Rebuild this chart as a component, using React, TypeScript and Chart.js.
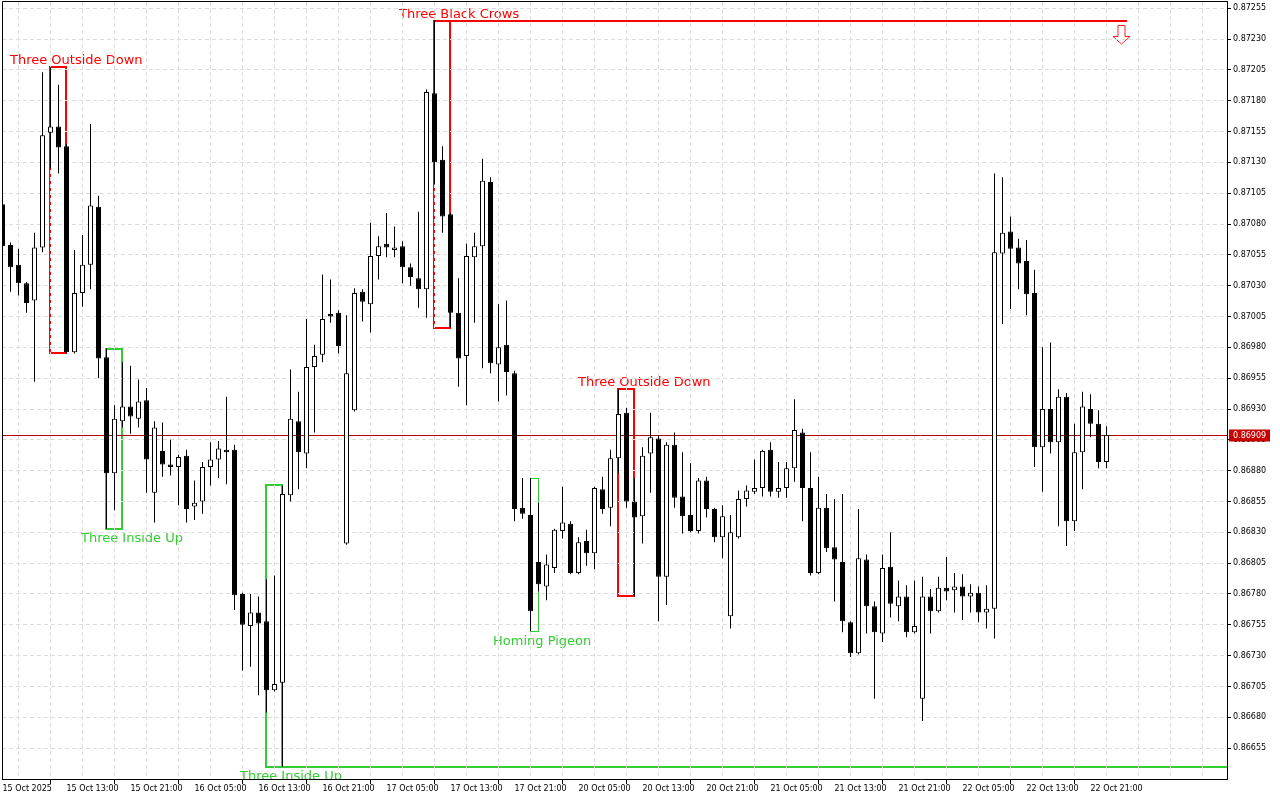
import React, { useEffect, useRef } from 'react';
import { Chart, registerables } from 'chart.js';

Chart.register(...registerables);

// ---- data ----
const tickLabels = [
  '15 Oct 2025', '15 Oct 13:00', '15 Oct 21:00', '16 Oct 05:00', '16 Oct 13:00', '16 Oct 21:00',
  '17 Oct 05:00', '17 Oct 13:00', '17 Oct 21:00', '20 Oct 05:00', '20 Oct 13:00', '20 Oct 21:00',
  '21 Oct 05:00', '21 Oct 13:00', '21 Oct 21:00', '22 Oct 05:00', '22 Oct 13:00', '22 Oct 21:00',
];

const priceTicks = [
  0.86655, 0.8668, 0.86705, 0.8673, 0.86755, 0.8678, 0.86805, 0.8683, 0.86855, 0.8688,
  0.86905, 0.8693, 0.86955, 0.8698, 0.87005, 0.8703, 0.87055, 0.8708, 0.87105, 0.8713,
  0.87155, 0.8718, 0.87205, 0.8723, 0.87255,
];

const open = [
  0.87096, 0.87063, 0.87047, 0.87032, 0.87018, 0.87061, 0.87154, 0.87159, 0.87143, 0.86976,
  0.87024, 0.87047, 0.87094, 0.86972, 0.86878, 0.8692, 0.86932, 0.86922, 0.86937, 0.86862,
  0.86896, 0.86885, 0.86883, 0.86892, 0.86851, 0.86855, 0.86883, 0.86889, 0.86897, 0.86897,
  0.8678, 0.86754, 0.86765, 0.86758, 0.86702, 0.86708, 0.8686, 0.8692, 0.86894, 0.86964,
  0.86974, 0.87007, 0.87008, 0.86821, 0.86929, 0.87025, 0.87015, 0.87054, 0.87064, 0.87059,
  0.87062, 0.87045, 0.87036, 0.87027, 0.87186, 0.87132, 0.87088, 0.87008, 0.86973, 0.87053,
  0.87062, 0.87114, 0.86966, 0.86982, 0.86959, 0.8685, 0.86844, 0.86806, 0.86786, 0.86801,
  0.86831, 0.86837, 0.86797, 0.86823, 0.86813, 0.86865, 0.8685, 0.8689, 0.86927, 0.86855,
  0.86843, 0.86894, 0.86906, 0.86794, 0.86901, 0.86859, 0.86844, 0.86831, 0.86872, 0.86849,
  0.86826, 0.86762, 0.86826, 0.86857, 0.86863, 0.86866, 0.86897, 0.86863, 0.86866, 0.86882,
  0.86911, 0.86866, 0.86797, 0.8685, 0.86818, 0.86806, 0.86757, 0.86732, 0.86808, 0.8677,
  0.86748, 0.86802, 0.8677, 0.86778, 0.86749, 0.86695, 0.86778, 0.86766, 0.86785, 0.86783,
  0.86786, 0.86778, 0.86781, 0.86765, 0.86768, 0.87056, 0.87074, 0.87061, 0.8705, 0.87024,
  0.86899, 0.8693, 0.86903, 0.8694, 0.86839, 0.86895, 0.8693, 0.86918, 0.86887,
];

const high = [
  0.871, 0.87065, 0.8706, 0.87033, 0.87073, 0.87203, 0.87207, 0.87193, 0.87145, 0.87059,
  0.87071, 0.87161, 0.87103, 0.86979, 0.86933, 0.86968, 0.86965, 0.86954, 0.86947, 0.8692,
  0.86919, 0.86905, 0.86893, 0.86897, 0.86872, 0.86887, 0.86903, 0.86904, 0.8694, 0.86901,
  0.86781, 0.8678, 0.86778, 0.86792, 0.86795, 0.86868, 0.86962, 0.86944, 0.87003, 0.86982,
  0.87039, 0.87035, 0.8701, 0.87006, 0.87028, 0.87027, 0.87081, 0.8707, 0.87089, 0.87078,
  0.87066, 0.87048, 0.8709, 0.87189, 0.87245, 0.87143, 0.87089, 0.87036, 0.87064, 0.87073,
  0.87133, 0.87118, 0.87015, 0.87018, 0.86961, 0.86874, 0.86874, 0.86854, 0.86812, 0.86833,
  0.86867, 0.86839, 0.86826, 0.86832, 0.86867, 0.86875, 0.86897, 0.86946, 0.86931, 0.86874,
  0.86899, 0.86927, 0.86909, 0.86903, 0.86911, 0.86895, 0.86886, 0.86874, 0.86875, 0.8685,
  0.86852, 0.86844, 0.86864, 0.86868, 0.86889, 0.86897, 0.86903, 0.86887, 0.86887, 0.86938,
  0.86914, 0.86895, 0.86875, 0.86861, 0.86857, 0.86861, 0.86758, 0.86849, 0.86812, 0.86774,
  0.86812, 0.8683, 0.86791, 0.86787, 0.86791, 0.86794, 0.86784, 0.86794, 0.8681, 0.86797,
  0.86796, 0.86788, 0.86786, 0.86787, 0.87121, 0.87118, 0.87086, 0.87068, 0.87067, 0.87043,
  0.8698, 0.86984, 0.86946, 0.86943, 0.86918, 0.86944, 0.86942, 0.86929, 0.86916,
];

const low = [
  0.87059, 0.87025, 0.87022, 0.87008, 0.86952, 0.87057, 0.87125, 0.87121, 0.86975, 0.86975,
  0.87013, 0.87027, 0.86955, 0.86833, 0.86848, 0.86915, 0.8691, 0.86915, 0.86862, 0.86838,
  0.86875, 0.86876, 0.86852, 0.86838, 0.8684, 0.86845, 0.86868, 0.86874, 0.86869, 0.86767,
  0.86718, 0.86721, 0.86698, 0.86684, 0.86701, 0.8664, 0.86855, 0.86865, 0.86882, 0.86911,
  0.86968, 0.87, 0.86975, 0.8682, 0.86928, 0.87001, 0.86992, 0.87035, 0.87053, 0.87053,
  0.87032, 0.8703, 0.87012, 0.87004, 0.87112, 0.87073, 0.86996, 0.86948, 0.86933, 0.87,
  0.86963, 0.86959, 0.86936, 0.86941, 0.86839, 0.86841, 0.8675, 0.86782, 0.86775, 0.86797,
  0.86825, 0.86796, 0.86796, 0.86803, 0.868, 0.86845, 0.86835, 0.86878, 0.8685, 0.86778,
  0.86821, 0.86862, 0.86758, 0.86771, 0.8685, 0.86829, 0.8683, 0.86829, 0.86842, 0.86822,
  0.86809, 0.86752, 0.86825, 0.86851, 0.86861, 0.86859, 0.86859, 0.86858, 0.86858, 0.86871,
  0.86839, 0.86795, 0.86796, 0.86814, 0.86774, 0.86749, 0.86729, 0.86731, 0.86748, 0.86695,
  0.86741, 0.86761, 0.86758, 0.86745, 0.86748, 0.86677, 0.86748, 0.86765, 0.86775, 0.86765,
  0.86759, 0.86765, 0.86757, 0.86752, 0.86744, 0.86999, 0.87011, 0.87027, 0.87006, 0.86883,
  0.86863, 0.86894, 0.86835, 0.86819, 0.86831, 0.86865, 0.86907, 0.86882, 0.86882,
];

const close = [
  0.87062, 0.87045, 0.87032, 0.87016, 0.87061, 0.87152, 0.87159, 0.87142, 0.86976, 0.87024,
  0.87047, 0.87095, 0.86971, 0.86878, 0.86922, 0.86932, 0.86924, 0.86936, 0.86889, 0.86915,
  0.86885, 0.86883, 0.86891, 0.86849, 0.86854, 0.86883, 0.86889, 0.86898, 0.86895, 0.86779,
  0.86755, 0.86765, 0.86756, 0.86702, 0.86707, 0.86861, 0.86922, 0.86895, 0.86964, 0.86973,
  0.87003, 0.87005, 0.86981, 0.86959, 0.87024, 0.87017, 0.87054, 0.87062, 0.87061, 0.87061,
  0.87045, 0.87037, 0.87027, 0.87187, 0.8713, 0.87086, 0.87008, 0.86971, 0.87054, 0.87062,
  0.87115, 0.86967, 0.8698, 0.8696, 0.86849, 0.86845, 0.86766, 0.86788, 0.86804, 0.86832,
  0.86838, 0.86797, 0.86822, 0.86813, 0.86866, 0.86849, 0.8689, 0.86926, 0.86855, 0.86842,
  0.86892, 0.86907, 0.86794, 0.86901, 0.86858, 0.86843, 0.86831, 0.86872, 0.86849, 0.86826,
  0.86843, 0.8683, 0.86857, 0.86864, 0.86866, 0.86896, 0.86863, 0.86866, 0.86882, 0.86913,
  0.86866, 0.86797, 0.8685, 0.86817, 0.86808, 0.86758, 0.86732, 0.86809, 0.8677, 0.86749,
  0.86801, 0.86772, 0.86778, 0.86749, 0.86754, 0.86778, 0.86766, 0.86785, 0.86782, 0.86786,
  0.86778, 0.86781, 0.86765, 0.86768, 0.87057, 0.87073, 0.8706, 0.87048, 0.87023, 0.86899,
  0.8693, 0.86903, 0.8694, 0.86839, 0.86895, 0.86932, 0.86918, 0.86887, 0.86909,
];

// candle patterns (index of first / last candle)
const patternNames = ['Three Outside Down', 'Three Inside Up', 'Three Inside Up', 'Three Black Crows', 'Homing Pigeon', 'Three Outside Down'];
const patternFrom = [6, 13, 33, 54, 66, 77];
const patternTo = [8, 15, 35, 56, 67, 79];
const patternBullish = [false, true, true, false, true, false];
const signalIndex = 140; // arrow for Three Black Crows

// ---- styles ----
const RED = '#ff0000';
const GREEN = '#32cd32';
const FONT = '"DejaVu Sans", "Liberation Sans", sans-serif';
const GRID = '#dddddd';
const patternStyle: any[] = [
  { dx: -40, lw: 2 },
  { dx: -25, lw: 2 },
  { dx: -26, lw: 2, extendRight: true },
  { dx: -35, lw: 2, lineToArrow: true },
  { dx: -37, lw: 1 },
  { dx: -40, lw: 2 },
];

const idx = open.map((_, k) => k);

const patternsPlugin = {
  id: 'patterns',
  beforeDraw(chart: any) {
    const { ctx, chartArea: a } = chart;
    const xs = chart.scales.x;
    const ys = chart.scales.y;
    ctx.save();
    ctx.beginPath();
    ctx.rect(a.left, a.top, a.right - a.left, a.bottom - a.top);
    ctx.clip();
    for (let i = 0; i < patternNames.length; i++) {
      const st = patternStyle[i];
      const color = patternBullish[i] ? GREEN : RED;
      let hi = -Infinity;
      let lo = Infinity;
      for (let k = patternFrom[i]; k <= patternTo[i]; k++) {
        hi = Math.max(hi, high[k]);
        lo = Math.min(lo, low[k]);
      }
      const half = st.lw % 2 ? 0.5 : 0;
      const x0 = Math.floor(xs.getPixelForValue(patternFrom[i])) + half;
      const x1 = Math.floor(xs.getPixelForValue(patternTo[i])) + half;
      const y0 = Math.round(ys.getPixelForValue(hi)) + half;
      const y1 = Math.round(ys.getPixelForValue(lo)) + half;
      ctx.setLineDash([]);
      ctx.strokeStyle = color;
      ctx.lineWidth = st.lw;
      ctx.strokeRect(x0, y0, x1 - x0, y1 - y0);
      if (st.extendRight) {
        ctx.beginPath();
        ctx.moveTo(x1, y1);
        ctx.lineTo(a.right, y1);
        ctx.stroke();
      }
      if (st.lineToArrow) {
        const ax = Math.floor(xs.getPixelForValue(signalIndex)) - 0.5;
        ctx.beginPath();
        ctx.moveTo(x1, y0);
        ctx.lineTo(ax + 5.5, y0);
        ctx.stroke();
        const top = y0 + 4.5;
        const head = y0 + 15.5;
        const tip = y0 + 23;
        ctx.beginPath();
        ctx.moveTo(ax - 3.5, top);
        ctx.lineTo(ax + 3.5, top);
        ctx.lineTo(ax + 3.5, head);
        ctx.lineTo(ax + 8.5, head);
        ctx.lineTo(ax, tip);
        ctx.lineTo(ax - 8.5, head);
        ctx.lineTo(ax - 3.5, head);
        ctx.closePath();
        ctx.fillStyle = '#ffffff';
        ctx.fill();
        ctx.lineWidth = 1;
        ctx.strokeStyle = '#ff2020';
        ctx.stroke();
      }
      ctx.fillStyle = color;
      ctx.font = `13px ${FONT}`;
      ctx.textAlign = 'left';
      ctx.textBaseline = 'alphabetic';
      const ty = patternBullish[i] ? y1 + 13 : y0 - 3;
      ctx.fillText(patternNames[i], Math.floor(xs.getPixelForValue(patternFrom[i])) + st.dx, ty);
    }
    ctx.restore();
  },
  beforeDatasetsDraw(chart: any) {
    const { ctx, chartArea: a } = chart;
    const y = Math.round(chart.scales.y.getPixelForValue(close[close.length - 1])) + 0.5;
    ctx.save();
    ctx.setLineDash([]);
    ctx.strokeStyle = '#b40000';
    ctx.lineWidth = 1;
    ctx.beginPath();
    ctx.moveTo(a.left, y);
    ctx.lineTo(a.right, y);
    ctx.stroke();
    ctx.restore();
  },
  afterDraw(chart: any) {
    const { ctx, chartArea: a } = chart;
    ctx.save();
    ctx.setLineDash([]);
    ctx.strokeStyle = '#000';
    ctx.lineWidth = 1;
    ctx.beginPath();
    ctx.moveTo(a.left + 0.5, a.bottom);
    ctx.lineTo(a.left + 0.5, a.top - 0.5);
    ctx.lineTo(a.right + 1, a.top - 0.5);
    ctx.stroke();
    const last = close[close.length - 1];
    const yc = Math.round(chart.scales.y.getPixelForValue(last)) + 0.5;
    ctx.fillStyle = '#c80000';
    ctx.fillRect(a.right + 2, yc - 6, 41, 12);
    ctx.fillStyle = '#ffffff';
    ctx.font = `8px ${FONT}`;
    ctx.textAlign = 'left';
    ctx.textBaseline = 'middle';
    ctx.fillText(last.toFixed(5), a.right + 6, yc);
    ctx.restore();
  },
};

export default function App() {
  const ref = useRef<HTMLCanvasElement>(null);
  useEffect(() => {
    const chart = new Chart(ref.current as HTMLCanvasElement, {
      type: 'bar',
      data: {
        datasets: [
          {
            label: 'body',
            data: idx.map((k) => ({ x: k, y: [open[k], close[k]] })) as any,
            backgroundColor: idx.map((k) => (close[k] >= open[k] ? '#ffffff' : '#000000')),
            borderColor: '#000000',
            borderWidth: 1,
            borderSkipped: false,
            barThickness: 5,
            grouped: false,
            clip: 0,
            inflateAmount: 0,
          } as any,
          {
            label: 'wick',
            data: idx.map((k) => ({ x: k, y: [low[k], high[k]] })) as any,
            backgroundColor: '#000000',
            borderWidth: 0,
            barThickness: 1,
            grouped: false,
            clip: 0,
            inflateAmount: 0,
          } as any,
        ],
      },
      options: {
        responsive: false,
        devicePixelRatio: 1,
        animation: false,
        events: [],
        layout: { padding: { left: 2, top: 2, right: 0, bottom: 0 } },
        plugins: { legend: { display: false }, tooltip: { enabled: false } },
        scales: {
          x: {
            type: 'linear',
            position: 'bottom',
            min: -0.0625,
            max: 153.0625,
            offset: false,
            afterBuildTicks: (scale: any) => {
              const t: any[] = [];
              for (let v = 0; v <= 152; v += 4) t.push({ value: v });
              scale.ticks = t;
            },
            afterFit: (scale: any) => {
              scale.height = 21;
              scale.paddingLeft = 0;
              scale.paddingRight = 0;
              scale.paddingTop = 0;
              scale.paddingBottom = 0;
            },
            ticks: {
              autoSkip: false,
              maxRotation: 0,
              minRotation: 0,
              align: 'start',
              padding: 0,
              color: '#000',
              font: { family: FONT, size: 8 },
              callback: (v: any) => {
                const n = Number(v);
                return n % 8 === 0 && tickLabels[n / 8] ? tickLabels[n / 8] : '';
              },
            },
            grid: {
              color: GRID,
              lineWidth: 1,
              tickLength: 5,
              tickColor: (c: any) =>
                c.tick && c.tick.value % 8 === 0 && tickLabels[c.tick.value / 8] ? '#000' : 'rgba(0,0,0,0)',
            },
            border: { display: true, color: '#000', width: 1, dash: [4, 3] },
          } as any,
          y: {
            type: 'linear',
            position: 'right',
            min: 0.8663,
            max: 0.8726,
            afterBuildTicks: (scale: any) => {
              scale.ticks = priceTicks.map((v) => ({ value: v }));
            },
            afterFit: (scale: any) => {
              scale.width = 53;
              scale.paddingLeft = 0;
              scale.paddingRight = 0;
              scale.paddingTop = 0;
              scale.paddingBottom = 0;
            },
            ticks: {
              padding: 2,
              color: '#000',
              font: { family: FONT, size: 8 },
              callback: (v: any) => Number(v).toFixed(5),
            },
            grid: { color: GRID, lineWidth: 1, tickLength: 4, tickColor: '#000' },
            border: { display: true, color: '#000', width: 1, dash: [4, 3] },
          } as any,
        },
      },
      plugins: [patternsPlugin],
    });
    return () => chart.destroy();
  }, []);
  return (
    <div style={{ position: 'fixed', left: 0, top: 0, width: 1280, height: 800, background: '#ffffff' }}>
      <canvas ref={ref} width={1280} height={800} style={{ display: 'block', width: 1280, height: 800 }} />
    </div>
  );
}
